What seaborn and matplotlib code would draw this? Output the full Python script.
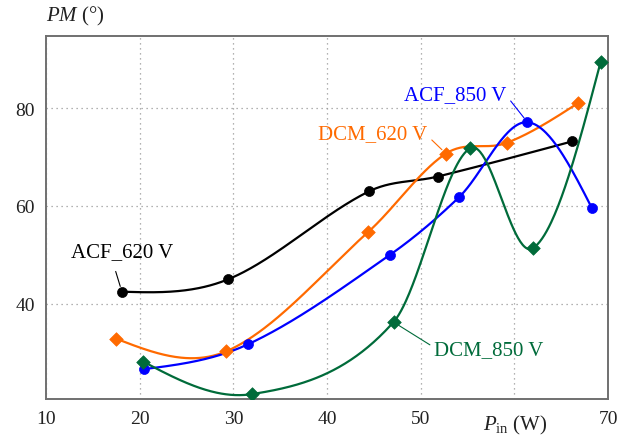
import numpy as np
import pandas as pd
import matplotlib
matplotlib.use("Agg")
import matplotlib.pyplot as plt
import seaborn as sns

# ---- data ----
acf620_x = [18.1, 29.4, 44.5, 51.8, 66.2]
acf620_y = [42.5, 45.0, 63.0, 66.0, 73.2]

dcm620_x = [17.5, 29.2, 44.4, 52.7, 59.2, 66.8]
dcm620_y = [32.9, 30.3, 54.7, 70.7, 72.9, 81.0]

acf850_x = [20.5, 31.6, 46.7, 54.1, 61.4, 68.3]
acf850_y = [26.7, 31.8, 50.0, 61.8, 77.1, 59.5]

dcm850_x = [20.4, 32.0, 47.1, 55.3, 62.0, 69.2]
dcm850_y = [28.2, 21.6, 36.3, 71.8, 51.4, 89.3]

series_names = ["ACF_620 V", "DCM_620 V", "ACF_850 V", "DCM_850 V"]
series_colors = ["#000000", "#FF6A00", "#0000FF", "#006B3A"]
series_markers = ["o", "D", "o", "D"]
x_ticks = [10, 20, 30, 40, 50, 60, 70]
x_ticklabels = ["10", "20", "30", "40", "50", "", "70"]
y_ticks = [40, 60, 80]


def smooth_curve(x, y, n=400):
    """Catmull-Rom style cubic Hermite curve through the points (natural ends)."""
    x = np.asarray(x, float)
    y = np.asarray(y, float)
    k = len(x)
    h = np.diff(x)
    s = np.diff(y) / h
    t = np.empty(k)
    for i in range(1, k - 1):
        t[i] = (y[i + 1] - y[i - 1]) / (x[i + 1] - x[i - 1])
    t[0] = (3 * s[0] - t[1]) / 2
    t[-1] = (3 * s[-1] - t[-2]) / 2
    xs = np.linspace(x[0], x[-1], n)
    ys = np.empty_like(xs)
    for j, xv in enumerate(xs):
        i = int(np.clip(np.searchsorted(x, xv, side="right") - 1, 0, k - 2))
        u = (xv - x[i]) / h[i]
        h00 = 2 * u ** 3 - 3 * u ** 2 + 1
        h10 = u ** 3 - 2 * u ** 2 + u
        h01 = -2 * u ** 3 + 3 * u ** 2
        h11 = u ** 3 - u ** 2
        ys[j] = h00 * y[i] + h10 * h[i] * t[i] + h01 * y[i + 1] + h11 * h[i] * t[i + 1]
    return xs, ys


sns.set_theme(style="white")
plt.rcParams["font.family"] = ["Liberation Serif", "DejaVu Serif"]
plt.rcParams["mathtext.fontset"] = "custom"
plt.rcParams["mathtext.rm"] = "Liberation Serif"
plt.rcParams["mathtext.it"] = "Liberation Serif:italic"

fig = plt.figure(figsize=(6.31, 4.39), dpi=100)
ax = fig.add_axes([46 / 631, 1 - 400 / 439, (608 - 46) / 631, (400 - 37) / 439])

data = [(acf620_x, acf620_y), (dcm620_x, dcm620_y), (acf850_x, acf850_y), (dcm850_x, dcm850_y)]
for (xs, ys), name, col, mk in zip(data, series_names, series_colors, series_markers):
    sx, sy = smooth_curve(xs, ys)
    curve = pd.DataFrame({"x": sx, "y": sy})
    sns.lineplot(data=curve, x="x", y="y", ax=ax, color=col, lw=1.6, sort=False, zorder=3)
    pts = pd.DataFrame({"x": xs, "y": ys})
    sns.scatterplot(data=pts, x="x", y="y", ax=ax, color=col, marker=mk,
                    s=52 if mk == "o" else 48, edgecolor=col, linewidth=0.5, zorder=4)

ax.set_xlim(10, 70)
ax.set_ylim(20.6, 94.7)
ax.set_xticks(x_ticks)
ax.set_xticklabels(x_ticklabels)
ax.set_yticks(y_ticks)
ax.tick_params(axis="both", length=0, labelsize=14, colors="#222222", pad=8)
ax.grid(True, linestyle=(0, (1, 3)), color="#999999", linewidth=0.9)
for sp in ax.spines.values():
    sp.set_color("#707070")
    sp.set_linewidth(1.4)
ax.set_xlabel("")
ax.set_ylabel("")

fig.text(46 / 631, 1 - 16 / 439, r"$PM$ (°)", fontsize=15, ha="left", va="center", color="#222222")
fig.text(515 / 631, 1 - 425 / 439, r"$P_{\mathrm{in}}$ (W)", fontsize=15, ha="center", va="center", color="#222222")

ann = dict(fontsize=15, ha="center", va="center")
ax.annotate("ACF_620 V", xy=(18.1, 42.5), xytext=(18.1, 50.6), color="black",
            arrowprops=dict(arrowstyle="-", color="black", lw=0.8, relpos=(0.41, 0.0),
                            shrinkA=5, shrinkB=4), **ann)
ax.annotate("DCM_620 V", xy=(52.7, 70.7), xytext=(44.9, 74.7), color="#FF6A00",
            arrowprops=dict(arrowstyle="-", color="#FF6A00", lw=0.8, relpos=(1.0, 0.4),
                            shrinkA=1, shrinkB=4), **ann)
ax.annotate("ACF_850 V", xy=(61.4, 77.1), xytext=(53.7, 82.7), color="#0000FF",
            arrowprops=dict(arrowstyle="-", color="#0000FF", lw=0.8, relpos=(1.0, 0.45),
                            shrinkA=1, shrinkB=4), **ann)
ax.annotate("DCM_850 V", xy=(47.1, 36.3), xytext=(57.3, 30.7), color="#006B3A",
            arrowprops=dict(arrowstyle="-", color="#006B3A", lw=0.8, relpos=(0.0, 0.6),
                            shrinkA=1, shrinkB=4), **ann)

fig.savefig("out.png", dpi=100)
